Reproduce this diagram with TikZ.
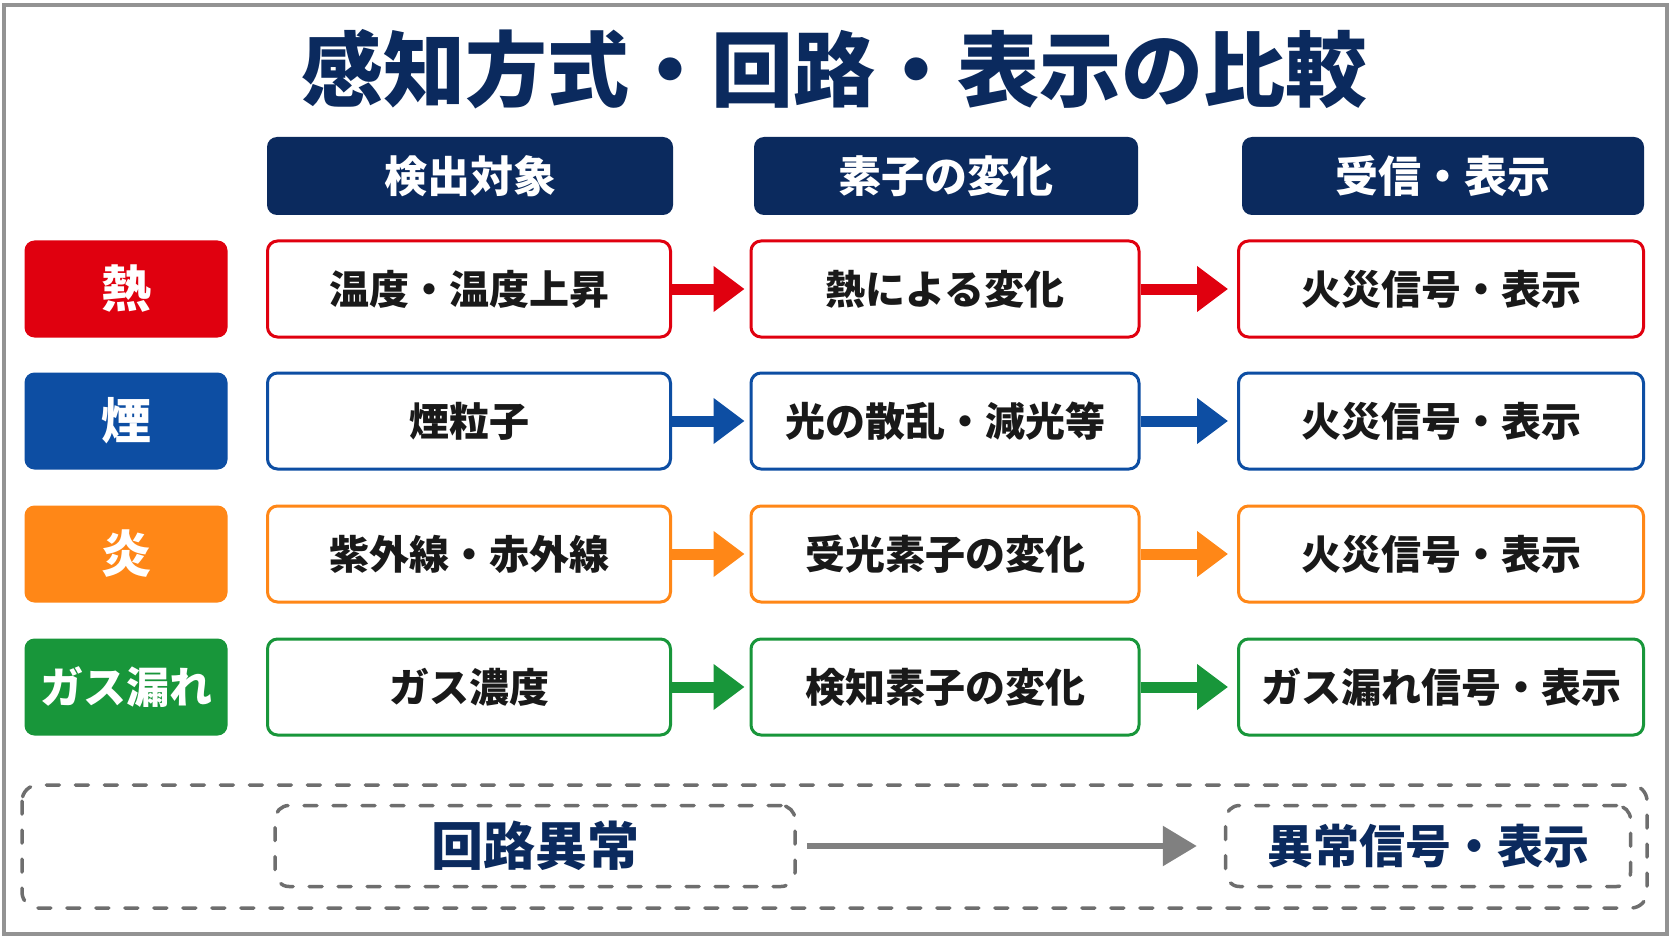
\documentclass[tikz,border=0pt]{standalone}
\usepackage{fontspec}
\setmainfont{Noto Sans CJK JP}
\usetikzlibrary{arrows.meta}

\definecolor{navy}{HTML}{0B2A5E}
\definecolor{heatred}{HTML}{E0000F}
\definecolor{smokeblue}{HTML}{0D4EA3}
\definecolor{flameorange}{HTML}{FF8717}
\definecolor{gasgreen}{HTML}{18963A}
\definecolor{framegray}{HTML}{6E6E6E}

\tikzset{
  head/.style={fill=navy, rounded corners=10pt, text=white, inner sep=0pt,
    font=\fontsize{43}{43}\selectfont\bfseries, minimum width=#1, minimum height=78pt},
  kind/.style={fill=#1, rounded corners=10pt, text=white, inner sep=0pt,
    font=\fontsize{50}{50}\selectfont\bfseries, minimum width=203pt, minimum height=97pt},
  cell/.style 2 args={draw=#1, line width=3pt, fill=white, rounded corners=10pt, inner sep=0pt,
    text=black!90, font=\fontsize{40}{40}\selectfont\bfseries, minimum width=#2, minimum height=96pt},
  flow/.style={draw=#1, line width=11pt, -{Triangle[length=31pt,width=44pt]}, shorten >=5pt},
  dashbox/.style={draw=framegray, line width=3.5pt, dash pattern=on 13pt off 16pt, line cap=round},
}

\begin{document}
\begin{tikzpicture}[x=1pt, y=-1pt]
\useasboundingbox (0,0) rectangle (1672,941);
\draw [draw=gray!85, line width=3.5pt, fill=white] (4,5) rectangle (1667,934);

\node (title) at (834,69) [text=navy, font=\fontsize{82}{82}\selectfont\bfseries] {感知方式・回路・表示の比較};

% column heads
\node (h1) at (470,176) [head=406pt] {検出対象};
\node (h2) at (946,176) [head=384pt] {素子の変化};
\node (h3) at (1443,176) [head=402pt] {受信・表示};

% heat
\node (k1) at (126,289) [kind=heatred] {熱};
\node (a1) at (469,289) [cell={heatred}{403pt}] {温度・温度上昇};
\node (b1) at (945,289) [cell={heatred}{388pt}] {熱による変化};
\node (c1) at (1441,289) [cell={heatred}{405pt}] {火災信号・表示};
\draw [flow=heatred] (a1.east) -- (b1.west);
\draw [flow=heatred, shorten >=9pt] (b1.east) -- (c1.west);

% smoke
\node (k2) at (126,421) [kind=smokeblue] {煙};
\node (a2) at (469,421) [cell={smokeblue}{403pt}] {煙粒子};
\node (b2) at (945,421) [cell={smokeblue}{388pt}] {光の散乱・減光等};
\node (c2) at (1441,421) [cell={smokeblue}{405pt}] {火災信号・表示};
\draw [flow=smokeblue] (a2.east) -- (b2.west);
\draw [flow=smokeblue, shorten >=9pt] (b2.east) -- (c2.west);

% flame
\node (k3) at (126,554) [kind=flameorange] {炎};
\node (a3) at (469,554) [cell={flameorange}{403pt}] {紫外線・赤外線};
\node (b3) at (945,554) [cell={flameorange}{388pt}] {受光素子の変化};
\node (c3) at (1441,554) [cell={flameorange}{405pt}] {火災信号・表示};
\draw [flow=flameorange] (a3.east) -- (b3.west);
\draw [flow=flameorange, shorten >=9pt] (b3.east) -- (c3.west);

% gas
\node (k4) at (126,687) [kind=gasgreen, font=\fontsize{43}{43}\selectfont\bfseries] {ガス漏れ};
\node (a4) at (469,687) [cell={gasgreen}{403pt}] {ガス濃度};
\node (b4) at (945,687) [cell={gasgreen}{388pt}] {検知素子の変化};
\node (c4) at (1441,687) [cell={gasgreen}{405pt}] {ガス漏れ信号・表示};
\draw [flow=gasgreen] (a4.east) -- (b4.west);
\draw [flow=gasgreen, shorten >=9pt] (b4.east) -- (c4.west);

% circuit fault
\draw [dashbox, rounded corners=16pt] (22,785) rectangle (1647,908);
\node (fault) at (535,846) [dashbox, rounded corners=14pt, minimum width=520pt, minimum height=81pt,
  text=navy, font=\fontsize{52}{52}\selectfont\bfseries] {回路異常};
\node (faultsig) at (1428,846) [dashbox, rounded corners=14pt, minimum width=405pt, minimum height=81pt,
  text=navy, font=\fontsize{46}{46}\selectfont\bfseries] {異常信号・表示};
\draw [draw=gray, line width=6pt, -{Triangle[length=34pt,width=39pt]}, shorten <=10pt, shorten >=27pt] (fault.east) -- (faultsig.west);
\end{tikzpicture}
\end{document}
